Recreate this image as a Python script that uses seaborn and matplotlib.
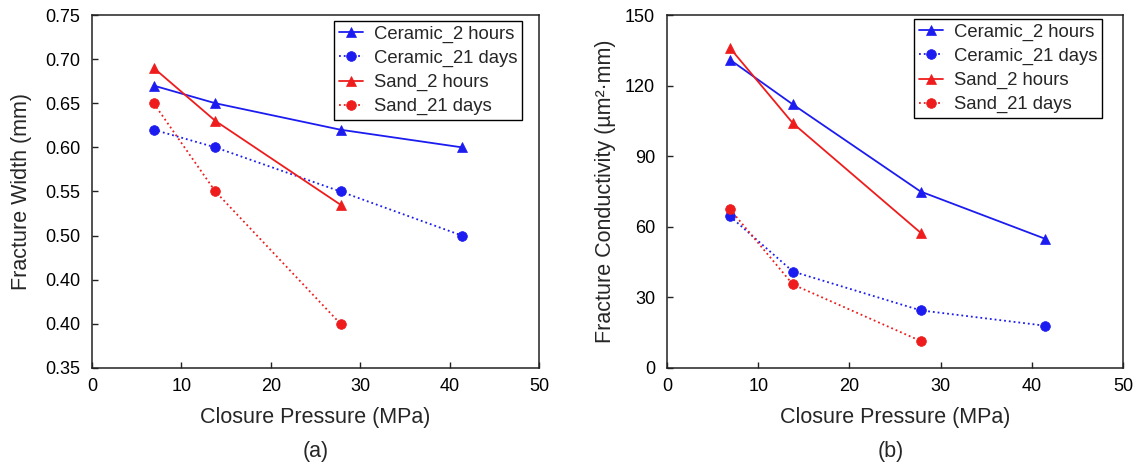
import matplotlib
matplotlib.use("Agg")
import matplotlib.pyplot as plt
import seaborn as sns
import numpy as np

# ---- data ----
pressure = [6.9, 13.8, 27.8, 41.4]

width_ceramic_2h = [0.67, 0.65, 0.62, 0.60]
width_ceramic_21d = [0.62, 0.60, 0.55, 0.50]
width_sand_2h = [0.69, 0.63, 0.535]
width_sand_21d = [0.65, 0.55, 0.40]

cond_ceramic_2h = [131, 112, 75, 55]
cond_ceramic_21d = [64.5, 41, 24.5, 18]
cond_sand_2h = [136, 104, 57.5]
cond_sand_21d = [67.5, 35.5, 11.5]

series_names = ["Ceramic_2 hours", "Ceramic_21 days", "Sand_2 hours", "Sand_21 days"]

width_ticks = [0.35, 0.40, 0.45, 0.50, 0.55, 0.60, 0.65, 0.70, 0.75]
width_tick_labels = ["0.35", "0.40", "0.40", "0.50", "0.55", "0.60", "0.65", "0.70", "0.75"]
cond_ticks = [0, 30, 60, 90, 120, 150]
x_ticks = [0, 10, 20, 30, 40, 50]

sns.set_style("ticks")
plt.rcParams['font.family'] = ['Liberation Sans', 'DejaVu Sans']

BLUE = "#1c1cf0"
RED = "#ee1c1c"
styles = [
    dict(color=BLUE, marker="^", linestyle="-"),
    dict(color=BLUE, marker="o", linestyle=":"),
    dict(color=RED, marker="^", linestyle="-"),
    dict(color=RED, marker="o", linestyle=":"),
]

fig = plt.figure(figsize=(11.36, 4.66), dpi=100)
ax1 = fig.add_axes([92/1136, 1-368/466, (539-92)/1136, 353/466])
ax2 = fig.add_axes([667/1136, 1-368/466, (1123-667)/1136, 353/466])

def draw(ax, ys):
    for name, y, st in zip(series_names, ys, styles):
        sns.lineplot(x=pressure[:len(y)], y=y, ax=ax, label=name,
                     color=st["color"], marker=st["marker"], linestyle=st["linestyle"],
                     linewidth=1.3, markersize=7, markeredgewidth=0.5,
                     markeredgecolor=st["color"])
    ax.set_xlim(0, 50)
    ax.set_xticks(x_ticks)
    ax.set_xlabel("Closure Pressure (MPa)", fontsize=15.5)
    for s in ax.spines.values():
        s.set_visible(True)
        s.set_linewidth(1.1)
        s.set_color("#222222")
    ax.tick_params(direction="in", length=4, width=1, labelsize=13,
                   top=False, right=False, colors="#222222", labelcolor="black")
    ax.tick_params(axis="y", pad=8.5)
    ax.tick_params(axis="x", pad=7)

draw(ax1, [width_ceramic_2h, width_ceramic_21d, width_sand_2h, width_sand_21d])
draw(ax2, [cond_ceramic_2h, cond_ceramic_21d, cond_sand_2h, cond_sand_21d])

ax1.set_ylim(0.35, 0.75)
ax1.set_yticks(width_ticks)
ax1.set_yticklabels(width_tick_labels)
ax1.set_ylabel("Fracture Width (mm)", fontsize=15.5)

ax2.set_ylim(0, 150)
ax2.set_yticks(cond_ticks)
ax2.set_ylabel("Fracture Conductivity (µm²·mm)", fontsize=15.5)

ax1.yaxis.set_label_coords((22-92)/447, 0.5)
ax2.yaxis.set_label_coords((606-667)/456, 0.5)
for ax in (ax1, ax2):
    ax.yaxis.label.set_va("center")
    ax.xaxis.set_label_coords(0.5, (368-418)/353)
    ax.xaxis.label.set_va("center")

for ax, anchor in ((ax1, ((522-92)/447, (368-21)/353)), (ax2, ((1102-667)/456, (368-19)/353))):
    leg = ax.legend(loc="upper right", bbox_to_anchor=anchor, borderaxespad=0,
                    fontsize=13.3, frameon=True, fancybox=False, framealpha=1,
                    edgecolor="black", handlelength=1.3, handletextpad=0.6,
                    labelspacing=0.38, borderpad=0.25)
    leg.get_frame().set_linewidth(1.0)

fig.text(316/1136, 1-452/466, "(a)", ha="center", va="center", fontsize=15.5)
fig.text(891/1136, 1-452/466, "(b)", ha="center", va="center", fontsize=15.5)

fig.savefig("out.png", dpi=100)
